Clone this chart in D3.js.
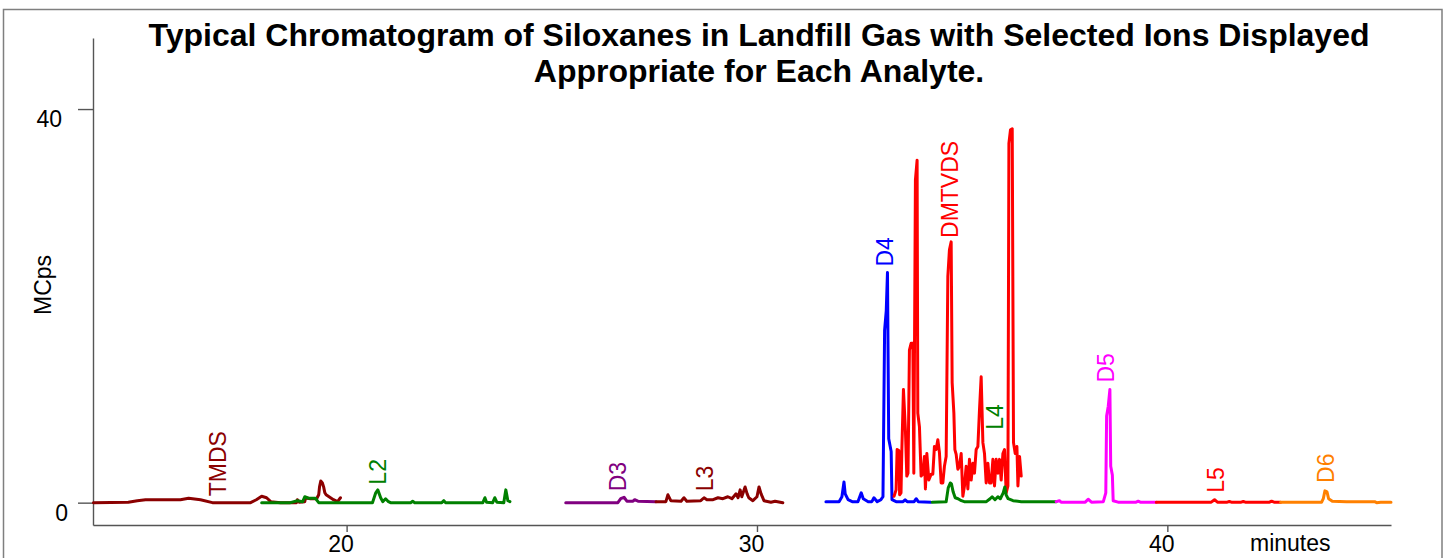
<!DOCTYPE html>
<html><head><meta charset="utf-8">
<script src="https://cdn.jsdelivr.net/npm/d3@7"></script>
<style>
html,body{margin:0;padding:0;background:#fff;}
svg{display:block;font-family:"Liberation Sans",Arial,sans-serif;}
</style></head>
<body><svg id="c" width="1447" height="558"></svg>
<script>
// ---- data: [minutes, MCps] ----
const tmds = [[13.83,0],[14.68,0.05],[14.9,0.2],[15.1,0.3],[15.95,0.3],[16.15,0.45],[16.44,0.3],[16.73,0],[17.66,0],[17.8,0.3],[17.93,0.65],[18.05,0.5],[18.15,0.1],[18.39,0],[18.78,0],[18.8,0.3],[18.85,0.05],[18.98,0.1],[19.0,0.5],[19.12,0.4],[19.27,0.4],[19.32,0.8],[19.34,1.6],[19.37,2.2],[19.41,2.0],[19.44,1.6],[19.47,1.0],[19.5,0.8],[19.68,0.3],[19.78,0.1],[19.85,0.5]];
const l2 = [[17.93,0],[18.63,0],[18.8,0.2],[18.93,0.1],[18.98,0.6],[19.07,0.45],[19.24,0.45],[19.32,0],[20.63,0],[20.71,1.0],[20.76,1.3],[20.83,0.5],[20.88,0.1],[20.95,0.4],[21.02,0.1],[21.07,0],[21.56,0],[21.61,0.15],[21.66,0],[22.32,0],[22.37,0.2],[22.41,0],[23.32,0],[23.37,0.5],[23.41,0.05],[23.56,0],[23.61,0.5],[23.66,0.05],[23.83,0],[23.86,0.8],[23.88,1.3],[23.93,0.2],[23.98,0.1]];
const d3s = [[25.34,0],[26.61,0],[26.68,0.4],[26.76,0.55],[26.83,0.15],[26.98,0.15],[27.02,0.3],[27.10,0.15],[27.54,0.1]];
const l3 = [[27.54,0.1],[27.78,0.1],[27.83,0.8],[27.9,0.2],[28.15,0.15],[28.22,0.5],[28.29,0.15],[28.63,0.2],[28.71,0.5],[28.78,0.3],[28.93,0.3],[29.05,0.5],[29.17,0.4],[29.29,0.6],[29.39,0.4],[29.49,0.9],[29.54,0.5],[29.59,1.3],[29.63,0.6],[29.71,1.6],[29.76,0.9],[29.8,0.5],[29.9,0.2],[30.0,0.6],[30.05,1.6],[30.1,0.9],[30.17,0.2],[30.34,0.05],[30.44,0.15],[30.63,0]];
const d4 = [[31.68,0.1],[32.0,0.1],[32.07,0.6],[32.12,2.1],[32.15,0.9],[32.22,0.3],[32.32,0.1],[32.46,0.1],[32.54,1.0],[32.59,0.4],[32.71,0.1],[32.8,0.1],[32.85,0.5],[32.93,0.1],[33.02,0.3],[33.07,0.6],[33.11,17.5],[33.15,19.5],[33.18,23.4],[33.21,6.5],[33.27,5.2],[33.29,0.3],[33.39,0.1],[33.56,0.1],[33.61,0.3],[33.66,0.1],[33.83,0.1],[33.88,0.4],[33.93,0.1],[34.24,0.05]];
const dmtvds = [[33.34,0.65],[33.39,1.3],[33.415,5.4],[33.456,5.3],[33.476,0.8],[33.51,1.0],[33.53,5.3],[33.569,11.5],[33.617,7.4],[33.651,2.7],[33.68,3.0],[33.715,15.5],[33.756,16.2],[33.798,16.2],[33.822,3.0],[33.861,32.8],[33.902,34.8],[33.919,9.1],[33.959,7.7],[34.0,2.7],[34.041,2.9],[34.08,4.7],[34.105,1.4],[34.139,5.0],[34.188,2.3],[34.244,2.9],[34.285,2.9],[34.324,5.7],[34.366,5.4],[34.407,6.4],[34.446,5.1],[34.488,2.0],[34.529,2.0],[34.568,3.7],[34.61,4.7],[34.651,23.0],[34.69,25.7],[34.732,26.5],[34.756,12.2],[34.798,9.1],[34.822,5.4],[34.854,4.9],[34.895,3.4],[34.934,3.7],[34.976,5.0],[35.017,0.65],[35.056,1.7],[35.098,3.7],[35.139,1.4],[35.178,4.4],[35.22,2.3],[35.261,4.0],[35.3,3.0],[35.341,5.4],[35.383,5.7],[35.422,9.4],[35.463,12.8],[35.505,6.1],[35.544,5.0],[35.585,2.0],[35.627,4.0],[35.666,2.0],[35.707,2.0],[35.749,4.4],[35.788,1.7],[35.829,4.4],[35.871,3.0],[35.91,4.4],[35.951,2.3],[35.993,5.0],[36.032,5.4],[36.073,1.0],[36.115,1.7],[36.139,36.5],[36.178,37.9],[36.22,38.0],[36.251,6.1],[36.293,5.0],[36.334,5.7],[36.359,1.7],[36.398,4.7],[36.439,2.7]];
const l4 = [[34.27,0.05],[34.61,0.1],[34.66,1.5],[34.71,2.0],[34.74,1.9],[34.78,1.1],[34.83,0.5],[34.9,0.4],[34.98,0.2],[35.05,0.1],[35.59,0.1],[35.68,0.4],[35.73,0.6],[35.8,0.3],[35.87,0.6],[35.93,0.4],[36.0,1.0],[36.04,1.6],[36.07,0.8],[36.12,0.4],[36.24,0.2],[36.44,0.1],[37.29,0.1]];
const d5 = [[37.29,0.1],[37.37,0.2],[37.41,0.05],[38.0,0.05],[38.07,0.35],[38.15,0.05],[38.44,0.1],[38.5,1.0],[38.52,8.8],[38.56,9.8],[38.6,11.5],[38.62,3.7],[38.66,2.8],[38.68,0.2],[38.8,0.05],[39.24,0.05],[39.29,0.15],[39.34,0.05],[39.73,0.05]];
const l5 = [[39.73,0.05],[41.07,0.05],[41.15,0.3],[41.22,0.05],[41.46,0.05],[41.51,0.12],[41.56,0.05],[41.8,0.05],[41.85,0.12],[41.9,0.05],[42.49,0.05],[42.54,0.15],[42.6,0.05],[42.76,0.05]];
const d6 = [[42.76,0.05],[43.76,0.05],[43.8,0.4],[43.84,1.2],[43.89,1.1],[43.93,0.4],[44.02,0.15],[44.37,0.1],[45.05,0.1],[45.1,0.0],[45.2,0.05],[45.45,0.05]];

const seriesNames = ["TMDS","L2","D3","L3","D4","DMTVDS","L4","D5","L5","D6"];
const seriesData  = [tmds,l2,d3s,l3,d4,dmtvds,l4,d5,l5,d6];
const seriesColors = ["#8B0000","#008000","#800080","#8B0000","#0000FF","#FF0000","#008000","#FF00FF","#FF0000","#FF8000"];
// label anchor points [minutes, MCps]
const labelAt = [[17.05,0.65],[20.95,1.83],[26.8,1.15],[28.93,1.15],[33.32,24.0],[34.9,26.9],[36.0,7.4],[38.71,12.2],[41.37,1.0],[44.07,2.0]];

const xTicks = [20,30,40];
const yTicks = [0,40];
const titleLines = ["Typical Chromatogram of Siloxanes in Landfill Gas with Selected Ions Displayed","Appropriate for Each Analyte."];

// ---- drawing ----
const svg = d3.select("#c");
svg.append("rect").attr("x",3.5).attr("y",9.5).attr("width",1438.5).attr("height",560)
  .attr("fill","none").attr("stroke","#7f7f7f").attr("stroke-width",1.5);

const x = d3.scaleLinear().domain([13.82,45.45]).range([93,1391]);
const y = d3.scaleLinear().domain([-2.27,47.22]).range([525,38]);

const gx = svg.append("g").attr("transform","translate(0,525)")
  .call(d3.axisBottom(x).tickValues(xTicks).tickSize(7).tickSizeOuter(0).tickFormat(d3.format("d")));
gx.select(".domain").attr("stroke","#555").attr("stroke-width",1.4);
gx.selectAll(".tick line").attr("stroke","#555").attr("stroke-width",1.4);
gx.selectAll(".tick text").attr("font-size",23).attr("fill","#000")
  .attr("font-family","Liberation Sans, Arial, sans-serif")
  .attr("dx",-6).attr("y",27).attr("dy",0);

const gy = svg.append("g").attr("transform","translate(93,0)")
  .call(d3.axisLeft(y).tickValues(yTicks).tickSize(15).tickSizeOuter(0).tickFormat(d3.format("d")));
gy.select(".domain").attr("stroke","#555").attr("stroke-width",1.4);
gy.selectAll(".tick line").attr("stroke","#555").attr("stroke-width",1.4);
gy.selectAll(".tick text").attr("font-size",23).attr("fill","#000")
  .attr("font-family","Liberation Sans, Arial, sans-serif")
  .attr("text-anchor","end").attr("dy",0).attr("y",17.5)
  .attr("x", d => d === 0 ? -25 : -31);

svg.append("text").attr("x",1250).attr("y",551).attr("font-size",23).text("minutes");
svg.append("text").attr("transform","translate(51,285) rotate(-90)")
  .attr("text-anchor","middle").attr("font-size",23).text("MCps");

svg.selectAll("text.title").data(titleLines).join("text").attr("class","title")
  .attr("x",759).attr("y",(d,i)=>46+i*36).attr("text-anchor","middle")
  .attr("font-size",32).attr("font-weight","bold").text(d=>d);

const line = d3.line().x(d=>x(d[0])).y(d=>y(d[1]));
svg.append("g").selectAll("path").data(seriesData).join("path")
  .attr("d",line).attr("fill","none")
  .attr("stroke",(d,i)=>seriesColors[i]).attr("stroke-width",3)
  .attr("stroke-linejoin","round").attr("stroke-linecap","round");

svg.append("g").selectAll("text").data(seriesNames).join("text")
  .attr("transform",(d,i)=>`translate(${x(labelAt[i][0])},${y(labelAt[i][1])}) rotate(-90)`)
  .attr("font-size",23).attr("fill",(d,i)=>seriesColors[i]).text(d=>d);
</script></body></html>
